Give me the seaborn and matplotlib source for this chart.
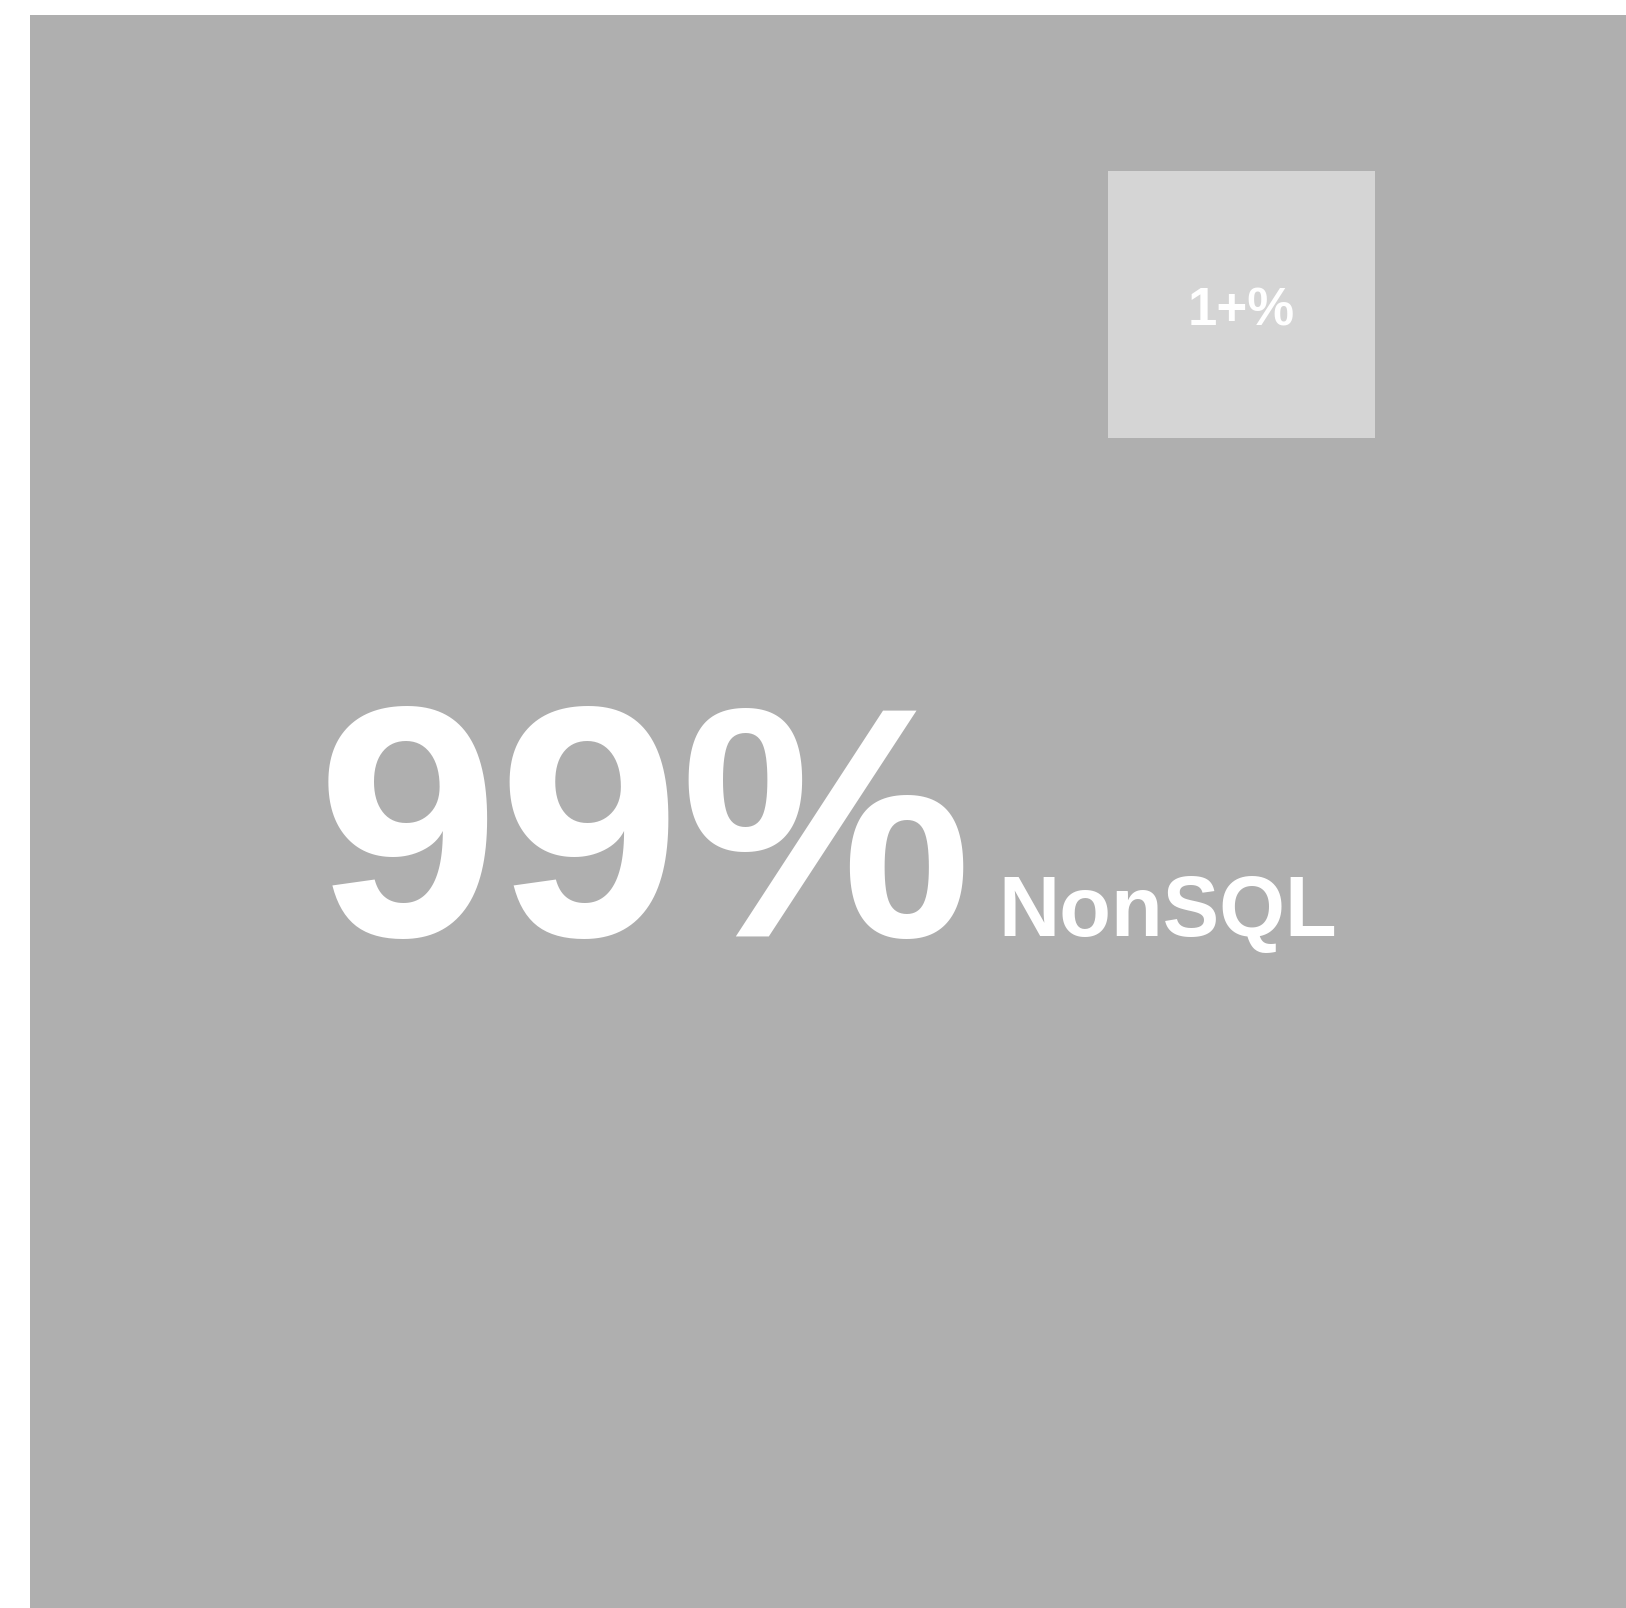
#!/usr/bin/env python3
"""
Share of NonSQL vs other - square callout chart.
"""

import matplotlib
matplotlib.use("Agg")
import matplotlib.pyplot as plt
import seaborn as sns

# ── Data ──────────────────────────────────────────────────────────────────────
categories = ["NonSQL", ""]
shares = [99, 1]
share_labels = ["99%", "1+%"]

# ── Style ─────────────────────────────────────────────────────────────────────
sns.set_theme(style="white")
plt.rcParams["font.family"] = ["Liberation Sans", "DejaVu Sans"]

big_color = "#afafaf"
small_color = "#d5d5d5"

fig = plt.figure(figsize=(16.26, 16.085), dpi=100)
fig.patch.set_facecolor("white")
# axes covers the big square (clipped at right/bottom of the canvas)
ax = fig.add_axes([30 / 1626, 0, 1596 / 1626, 1593 / 1608])
ax.set_xlim(0, 1)
ax.set_ylim(0, 1)
ax.axis("off")

# big square for the main share, small square inset for the remainder
ax.bar([0, 0.6754], [1, 0.1676], width=[1, 0.1673], bottom=[0, 0.7345],
       align="edge", color=[big_color, small_color], linewidth=0)

# main share label + category
ax.text(0.1795, 0.4218, share_labels[0], color="white", fontsize=236,
        fontweight="bold", ha="left", va="baseline")
ax.text(0.6065, 0.4218, categories[0], color="white", fontsize=61,
        fontweight="bold", ha="left", va="baseline")

# small share label
ax.text(0.759, 0.8054, share_labels[1], color="white", fontsize=38,
        fontweight="bold", ha="center", va="baseline")

fig.savefig("out.png", dpi=100, facecolor="white")
plt.close(fig)
